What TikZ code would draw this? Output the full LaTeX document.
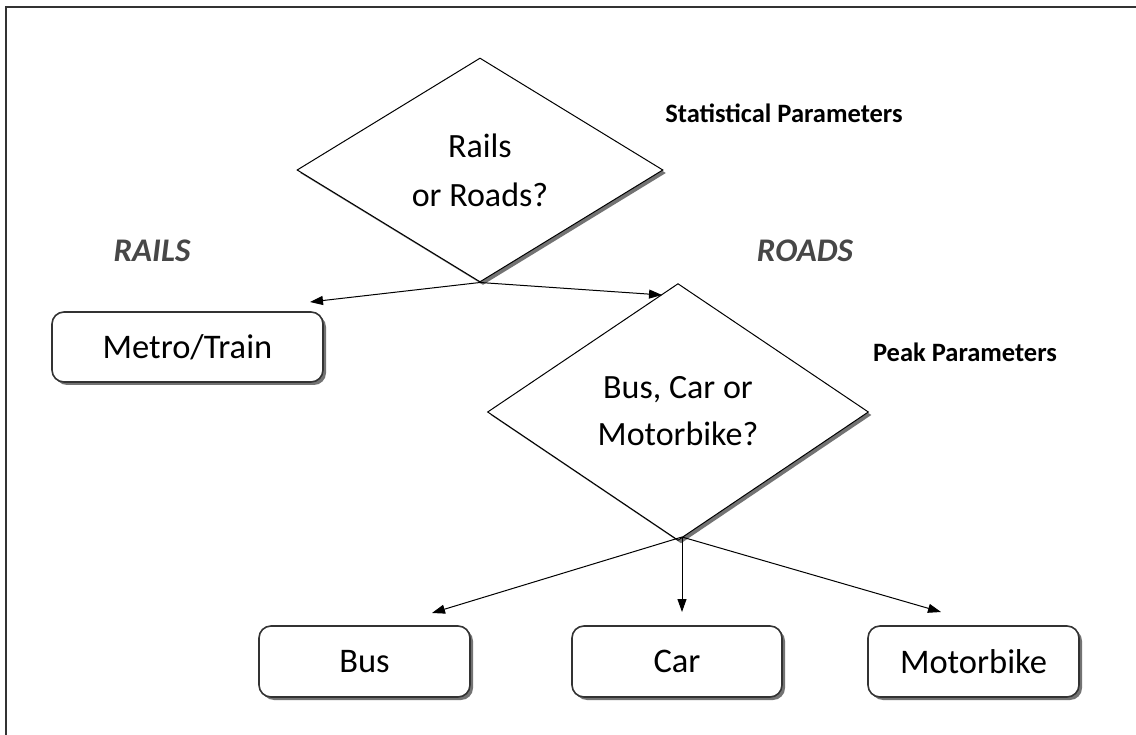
\documentclass[tikz,border=0pt]{standalone}
\usepackage{fontspec}
\setmainfont{Carlito}
\usetikzlibrary{shapes.geometric,shadows,arrows.meta}
\begin{document}
\begin{tikzpicture}[x=1pt,y=-1pt,
  shd/.style={drop shadow={shadow xshift=3pt, shadow yshift=-3pt, fill=black!55, opacity=1}},
  dia/.style={diamond, draw=black, line width=1pt, fill=white, inner sep=0pt, align=center,
    font=\fontsize{34}{49}\selectfont, shd},
  box/.style={rectangle, rounded corners=12pt, draw=black!80, line width=1.6pt, fill=white,
    inner sep=0pt, minimum height=70pt, font=\fontsize{34.5}{40}\selectfont, shd},
  arr/.style={-{Triangle[length=13pt,width=9pt]}, line width=1pt},
  lbl/.style={font=\bfseries\itshape\fontsize{33}{40}\selectfont, text=black!72},
  note/.style={font=\bfseries\fontsize{26.5}{30}\selectfont},
  frame/.style={line width=2pt, draw=black!80}]
\useasboundingbox (0,0) rectangle (1136,735);
\fill[white] (0,0) rectangle (1136,735);
\coordinate (fa) at (6,735);
\coordinate (fb) at (6,7);
\coordinate (fc) at (1136,7);
\draw[frame] (fa) -- (fb) -- (fc);

\node[dia, minimum width=366pt, minimum height=224pt] (d1) at (480,170) {Rails\\or Roads?};
\node[dia, minimum width=381pt, minimum height=232pt] (d2) at (678,412) {\raisebox{7pt}{\begin{tabular}{@{}c@{}}Bus, Car or\\[-0.05em]Motorbike?\end{tabular}}};

\node[box, minimum width=271pt] (metro) at (187.5,347) {Metro/Train};
\node[box, minimum width=211pt, minimum height=71pt] (bus) at (364.5,661.5) {Bus};
\node[box, minimum width=210pt, minimum height=71pt] (car) at (677,661.5) {Car};
\node[box, minimum width=211pt, minimum height=71pt] (moto) at (973.5,661.5) {Motorbike};

\node[lbl] (rails) at (152,251) {RAILS};
\node[lbl] (roads) at (805,251) {ROADS};
\node[note] (stat) at (784,113) {Statistical Parameters};
\node[note] (peak) at (965,352) {Peak Parameters};

\coordinate (t1) at (310,302);
\coordinate (t2) at (662,295);
\draw[arr] (d1.south) -- (t1);
\draw[arr] (d1.south) -- (t2);

\coordinate (j2) at (682,537);
\coordinate (t3) at (432,613);
\coordinate (t4) at (682,612);
\coordinate (t5) at (941,612);
\draw[arr] (j2) -- (t3);
\draw[arr] (j2) -- (t4);
\draw[arr] (j2) -- (t5);
\end{tikzpicture}
\end{document}
